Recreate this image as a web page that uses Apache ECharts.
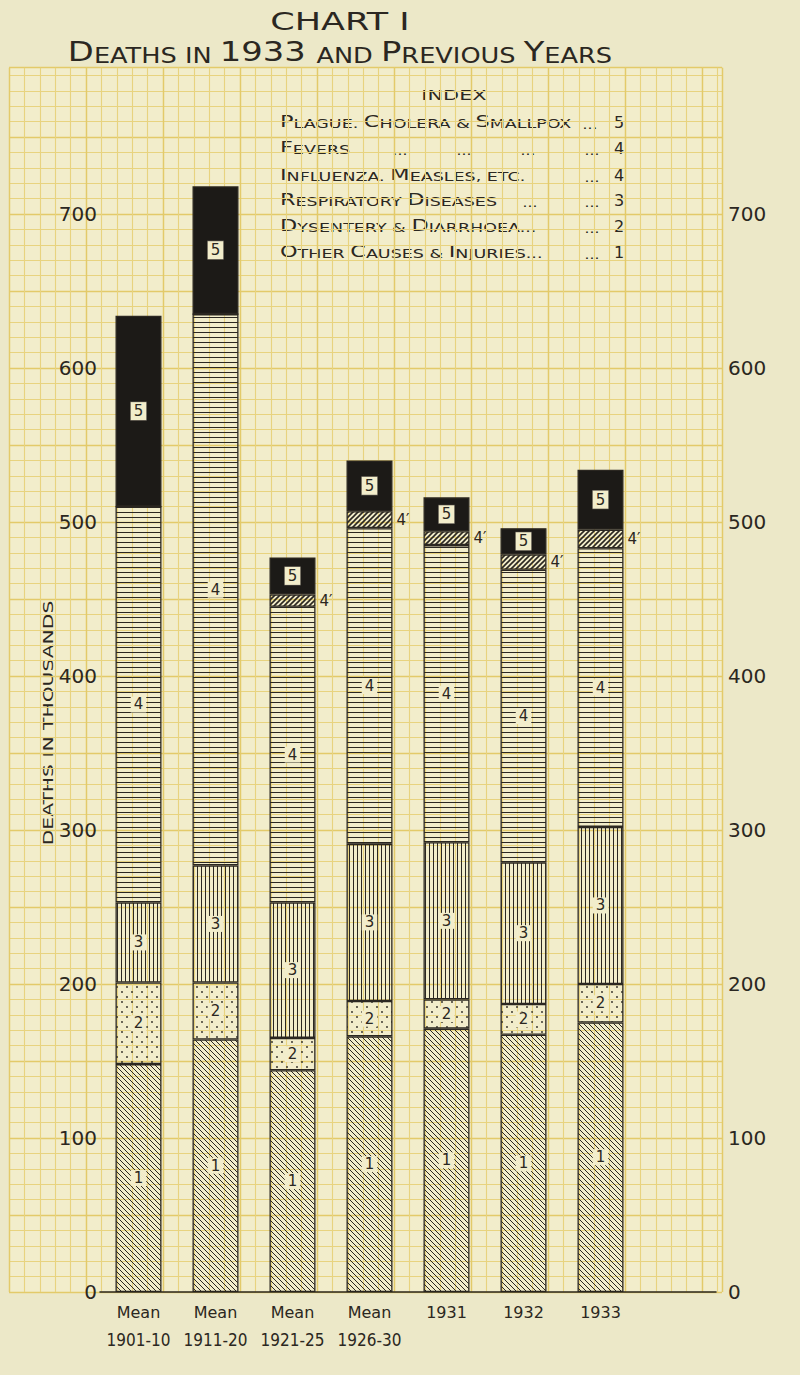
<!DOCTYPE html>
<html>
<head>
<meta charset="utf-8">
<script src="https://cdn.jsdelivr.net/npm/echarts@6/dist/echarts.min.js"></script>
<style>
html,body{margin:0;padding:0;background:#ece8c8;}
#chart{width:800px;height:1375px;}
</style>
</head>
<body>
<div id="chart"></div>
<script>
// ---------------- data (deaths in thousands) ----------------
const categories = ['Mean 1901-10', 'Mean 1911-20', 'Mean 1921-25', 'Mean 1926-30', '1931', '1932', '1933'];
const otherCauses  = [148, 164, 144, 166, 171, 167, 175]; // 1
const dysentery    = [53, 37, 21, 23, 19, 20, 25];        // 2
const respiratory  = [52, 76, 88, 102, 102, 92, 102];     // 3
const fevers       = [257, 358, 192, 205, 193, 190, 181]; // 4
const influenza    = [0, 0, 8, 11, 9, 10, 12];            // 4'
const plague       = [124, 83, 24, 33, 22, 17, 39];       // 5
const yTicks = [0, 100, 200, 300, 400, 500, 600, 700];
const indexNames = ['Plague. Cholera & Smallpox', 'Fevers', 'Influenza. Measles, etc.', 'Respiratory Diseases', 'Dysentery & Diarrhoea...', 'Other Causes & Injuries...'];
const indexKeys = ['5', '4', '4', '3', '2', '1'];

// ---------------- styles ----------------
const ink = '#2b2721';
const paper = '#f2edcb';
const gridLine = '#e8d37f';
const gridMajor = '#e3ca6a';
const FONT = 'DejaVu Sans';

function makePattern(w, h, draw) {
  const c = document.createElement('canvas');
  c.width = w; c.height = h;
  const g = c.getContext('2d');
  g.strokeStyle = ink; g.fillStyle = ink;
  draw(g, w, h);
  return { image: c, repeat: 'repeat', imageWidth: w, imageHeight: h };
}
const patOther = makePattern(5, 5, g => {
  g.lineWidth = 1; g.beginPath();
  g.moveTo(-1, -1); g.lineTo(6, 6);
  g.moveTo(-1, 4); g.lineTo(1, 6);
  g.moveTo(4, -1); g.lineTo(6, 1);
  g.stroke();
});
const patDots = makePattern(10, 10, g => {
  [[2, 2], [7, 7]].forEach(([x, y]) => { g.beginPath(); g.arc(x, y, 0.9, 0, Math.PI * 2); g.fill(); });
});
const patVert = makePattern(4, 4, g => { g.fillRect(1, 0, 1, 4); });
const patHorz = makePattern(4, 5, g => { g.fillRect(0, 2, 4, 1); });
const patInfl = makePattern(5, 5, g => {
  g.lineWidth = 1.6; g.beginPath();
  g.moveTo(-1, 6); g.lineTo(6, -1);
  g.moveTo(-1, 1); g.lineTo(1, -1);
  g.moveTo(4, 6); g.lineTo(6, 4);
  g.stroke();
});
const solidBlack = '#1c1a17';

function smallCaps(s) {
  let out = '', cur = null, buf = '';
  for (const ch of s) {
    const t = /[A-Z0-9]/.test(ch) ? 'b' : (/[a-z]/.test(ch) ? 's' : (cur || 's'));
    if (t !== cur && buf) { out += '{' + cur + '|' + buf + '}'; buf = ''; }
    cur = t; buf += ch.toUpperCase();
  }
  if (buf) out += '{' + cur + '|' + buf + '}';
  return out;
}

const insideLabel = (key) => ({
  show: true, position: 'inside',
  formatter: p => (p.value > 0 ? key : ''),
  color: ink, fontFamily: FONT, fontSize: 15,
  backgroundColor: paper, padding: [1, 3, 0, 3]
});

const seriesDefs = [
  { name: indexNames[5], data: otherCauses, fill: patOther, label: insideLabel('1') },
  { name: indexNames[4], data: dysentery, fill: patDots, label: insideLabel('2') },
  { name: indexNames[3], data: respiratory, fill: patVert, label: insideLabel('3') },
  { name: indexNames[1], data: fevers, fill: patHorz, label: insideLabel('4') },
  { name: indexNames[2], data: influenza, fill: patInfl, label: {
      show: true, position: 'right', distance: 4,
      formatter: p => (p.value > 0 ? '4\u2032' : ''),
      color: ink, fontFamily: FONT, fontSize: 15 } },
  { name: indexNames[0], data: plague, fill: solidBlack, label: Object.assign(insideLabel('5'), { padding: [2, 3, 1, 3], borderColor: '#55504a', borderWidth: 0.6 }) }
];

const series = seriesDefs.map(d => ({
  type: 'bar', name: d.name, data: d.data, stack: 'total',
  xAxisIndex: 0, yAxisIndex: 0, barWidth: 46,
  itemStyle: { color: d.fill, borderColor: ink, borderWidth: 1.3 },
  label: d.label,
  emphasis: { disabled: true },
  animation: false
}));

// ---------------- graphic texts ----------------
const graphics = [];
graphics.push({ type: 'text', x: 340, y: 21, scaleX: 1.4, style: {
  text: 'CHART I', font: '25px "' + FONT + '"', fill: ink, textAlign: 'center', textVerticalAlign: 'middle' } });
graphics.push({ type: 'text', x: 340, y: 52, scaleX: 1.25, style: {
  text: smallCaps('Deaths in 1933 and Previous Years'), fill: ink, textAlign: 'center', textVerticalAlign: 'middle',
  rich: { b: { fontSize: 27, fontFamily: FONT, verticalAlign: 'bottom' }, s: { fontSize: 20.5, fontFamily: FONT, verticalAlign: 'bottom' } } } });
graphics.push({ type: 'text', x: 454, y: 95, scaleX: 1.44, style: {
  text: 'INDEX', font: '14.5px "' + FONT + '"', fill: ink, textAlign: 'center', textVerticalAlign: 'middle' } });
const rowY = [122, 148, 175, 200, 226, 252];
const leaders = [[590], [400, 464, 528, 592], [592], [530, 592], [592], [592]];
indexNames.forEach((n, i) => {
  graphics.push({ type: 'text', x: 280, y: rowY[i], scaleX: 1.4, style: {
    text: smallCaps(n), fill: ink, textAlign: 'left', textVerticalAlign: 'middle',
    rich: { b: { fontSize: 16, fontFamily: FONT, verticalAlign: 'bottom' }, s: { fontSize: 12.5, fontFamily: FONT, verticalAlign: 'bottom' } } } });
  leaders[i].forEach(x => graphics.push({ type: 'text', x: x, y: rowY[i] + 3, scaleX: 1.3, style: {
    text: '...', font: '12px "' + FONT + '"', fill: ink, textAlign: 'center', textVerticalAlign: 'middle' } }));
  graphics.push({ type: 'text', x: 619, y: rowY[i], style: {
    text: indexKeys[i], font: '16px "' + FONT + '"', fill: ink, textAlign: 'center', textVerticalAlign: 'middle' } });
});
graphics.push({ type: 'text', x: 48, y: 723, rotation: Math.PI / 2, scaleX: 1.45, style: {
  text: 'DEATHS IN THOUSANDS', font: '14px "' + FONT + '"', fill: ink, textAlign: 'center', textVerticalAlign: 'middle' } });

// ---------------- option ----------------
const yLabel = v => (yTicks.indexOf(v) >= 0 ? String(v) : '');
const option = {
  backgroundColor: '#ece8c8',
  animation: false,
  grid: [
    { left: 100, right: 84, top: 60, bottom: 83 },
    { left: 9, right: 78, top: 67.7, bottom: 83, show: true, backgroundColor: paper, borderWidth: 0 }
  ],
  xAxis: [
    { type: 'category', gridIndex: 0, data: categories.concat(['']),
      axisLine: { show: true, lineStyle: { color: ink, width: 1.5 } }, axisTick: { show: false },
      axisLabel: { interval: 0, margin: 6,
        formatter: v => (v.indexOf('Mean') === 0 ? '{a|Mean}\n{b|' + v.slice(5) + '}' : (v ? '{a|' + v + '}' : '')),
        rich: { a: { fontSize: 16, fontFamily: FONT, color: ink, lineHeight: 28 },
                b: { fontSize: 17, fontFamily: '"DejaVu Sans Condensed", "Liberation Sans"', color: ink, lineHeight: 28 } } },
      splitLine: { show: false }, z: 5 },
    { type: 'value', gridIndex: 1, min: 0, max: 46.3, interval: 1,
      axisLine: { show: false }, axisTick: { show: false }, axisLabel: { show: false },
      splitLine: { show: true, lineStyle: { color: gridLine, width: 1.1 } } },
    { type: 'value', gridIndex: 1, min: 0, max: 46.3, interval: 5,
      axisLine: { show: false }, axisTick: { show: false }, axisLabel: { show: false },
      splitLine: { show: true, lineStyle: { color: gridMajor, width: 1.4 } } }
  ],
  yAxis: [
    { type: 'value', gridIndex: 0, position: 'left', min: 0, max: 800, interval: 100,
      axisLine: { show: false }, axisTick: { show: false }, splitLine: { show: false },
      axisLabel: { formatter: yLabel, margin: 3, color: ink, fontSize: 20, fontFamily: FONT } },
    { type: 'value', gridIndex: 0, position: 'right', min: 0, max: 800, interval: 100,
      axisLine: { show: false }, axisTick: { show: false }, splitLine: { show: false },
      axisLabel: { formatter: yLabel, margin: 12, color: ink, fontSize: 20, fontFamily: FONT } },
    { type: 'value', gridIndex: 1, min: 0, max: 795, interval: 10,
      axisLine: { show: false }, axisTick: { show: false }, axisLabel: { show: false },
      splitLine: { show: true, lineStyle: { color: gridLine, width: 1.1 } } },
    { type: 'value', gridIndex: 1, min: 0, max: 795, interval: 50,
      axisLine: { show: false }, axisTick: { show: false }, axisLabel: { show: false },
      splitLine: { show: true, lineStyle: { color: gridMajor, width: 1.4 } } }
  ],
  graphic: graphics,
  series: series
};

const chart = echarts.init(document.getElementById('chart'), null, { renderer: 'svg' });
chart.setOption(option);
</script>
</body>
</html>
